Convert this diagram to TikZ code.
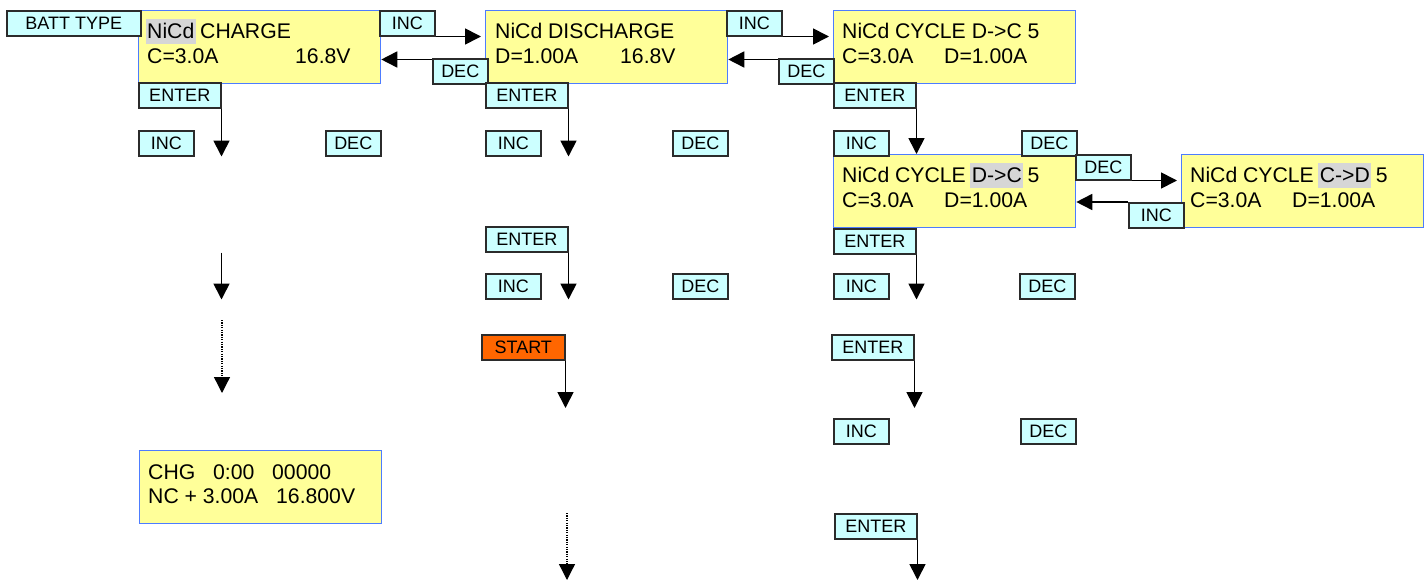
\documentclass[tikz,border=0pt]{standalone}
\usepackage{fontspec}
\setmainfont{Liberation Sans}
\usetikzlibrary{arrows.meta}
\definecolor{lcdfill}{HTML}{FFFF99}
\definecolor{lcdline}{HTML}{4D7CFF}
\definecolor{btnfill}{HTML}{CCFFFF}
\definecolor{btnline}{HTML}{2B2B2B}
\definecolor{startfill}{HTML}{FF6600}
\definecolor{hlgray}{HTML}{D6D6D6}
\newcommand\hlbox[1]{{\setlength\fboxsep{0pt}\kern-1.5pt\colorbox{hlgray}{\kern1.5pt\rule[-6pt]{0pt}{25pt}#1\kern1.5pt}\kern-1.5pt}}
\begin{document}
\begin{tikzpicture}[x=1pt,y=-1pt,
  lcd/.style={draw=lcdline, fill=lcdfill, line width=1.3pt, minimum width=242pt, minimum height=73pt, anchor=north west, inner sep=0pt},
  lcdtxt/.style={anchor=base west, inner sep=0pt, font=\fontsize{21.2}{24}\selectfont},
  btn/.style={draw=btnline, fill=btnfill, line width=1.5pt, font=\fontsize{18}{20}\selectfont, minimum height=25pt, inner sep=0pt, anchor=north west, text height=13pt, text depth=1pt},
  incbtn/.style={btn, minimum width=55pt},
  entbtn/.style={btn, minimum width=82pt},
  startbtn/.style={btn, minimum width=83pt, fill=startfill},
  arr/.style={line width=1.7pt, -{Triangle[length=16pt,width=16pt]}},
  darr/.style={line width=1.3pt, dash pattern=on 1.2pt off 1.2pt, -{Triangle[length=16pt,width=16pt]}}
]
\useasboundingbox (0,0) rectangle (1428,581);

% LCD screens
\node[lcd] (lcdA) at (138,10) {};
\node[lcd] (lcdB) at (485,10) {};
\node[lcd] (lcdC) at (833,10) {};
\node[lcd] (lcdC2) at (833,154) {};
\node[lcd] (lcdD) at (1181,154) {};
\node[lcd] (chg) at (139,450) {};

\node[lcdtxt] (tA1) at ([shift={(9,28)}]lcdA.north west) {\hlbox{NiCd} CHARGE};
\node[lcdtxt] (tA2) at ([shift={(9,53)}]lcdA.north west) {\makebox[148pt][l]{C=3.0A}16.8V};
\node[lcdtxt] (tB1) at ([shift={(10,28)}]lcdB.north west) {NiCd DISCHARGE};
\node[lcdtxt] (tB2) at ([shift={(10,53)}]lcdB.north west) {\makebox[125pt][l]{D=1.00A}16.8V};
\node[lcdtxt] (tC1) at ([shift={(9,28)}]lcdC.north west) {NiCd CYCLE D->C 5};
\node[lcdtxt] (tC2) at ([shift={(9,53)}]lcdC.north west) {\makebox[102pt][l]{C=3.0A}D=1.00A};
\node[lcdtxt] (tC21) at ([shift={(9,28)}]lcdC2.north west) {NiCd CYCLE \hlbox{D->C} 5};
\node[lcdtxt] (tC22) at ([shift={(9,53)}]lcdC2.north west) {\makebox[102pt][l]{C=3.0A}D=1.00A};
\node[lcdtxt] (tD1) at ([shift={(9,28)}]lcdD.north west) {NiCd CYCLE \hlbox{C->D} 5};
\node[lcdtxt] (tD2) at ([shift={(9,53)}]lcdD.north west) {\makebox[102pt][l]{C=3.0A}D=1.00A};
\node[lcdtxt] (tG1) at ([shift={(9,29)}]chg.north west) {\makebox[65pt][l]{CHG}\makebox[59pt][l]{0:00}00000};
\node[lcdtxt] (tG2) at ([shift={(9,53)}]chg.north west) {\makebox[128pt][l]{NC + 3.00A}16.800V};

% buttons
\node[btn, minimum width=134pt] (batt) at (6,10) {BATT TYPE};
\node[incbtn] (incA) at (379,10) {INC};
\node[incbtn] (decA) at (432,58) {DEC};
\node[entbtn] (entA) at (138,82) {ENTER};
\node[incbtn] (incA2) at (138,130) {INC};
\node[incbtn] (decA2) at (325,130) {DEC};

\node[incbtn] (incB) at (726,10) {INC};
\node[incbtn] (decB) at (778,58) {DEC};
\node[entbtn] (entB) at (485,82) {ENTER};
\node[incbtn] (incB2) at (485,130) {INC};
\node[incbtn] (decB2) at (672,130) {DEC};
\node[entbtn] (entB2) at (485,226) {ENTER};
\node[incbtn] (incB3) at (485,273) {INC};
\node[incbtn] (decB3) at (672,273) {DEC};
\node[startbtn] (start) at (481,334) {START};

\node[entbtn] (entC) at (833,82) {ENTER};
\node[incbtn] (incC2) at (833,130) {INC};
\node[incbtn] (decC2) at (1021,130) {DEC};
\node[incbtn] (decC3) at (1075,154) {DEC};
\node[incbtn] (incD) at (1128,202) {INC};
\node[entbtn] (entC3) at (833,228) {ENTER};
\node[incbtn] (incC4) at (833,273) {INC};
\node[incbtn] (decC4) at (1019,273) {DEC};
\node[entbtn] (entC4) at (831,334) {ENTER};
\node[incbtn] (incC5) at (833,418) {INC};
\node[incbtn] (decC5) at (1020,418) {DEC};
\node[entbtn] (entC5) at (834,513) {ENTER};

% horizontal arrows
\draw[arr, shorten >=4pt] (incA.south east) -- (incA.south east -| lcdB.west);
\coordinate (dA) at ([yshift=-1.5pt]decA.north west);
\draw[arr] (dA) -- (dA -| lcdA.east);
\draw[arr, shorten >=4pt] (incB.south east) -- (incB.south east -| lcdC.west);
\coordinate (dB) at ([yshift=-1.5pt]decB.north west);
\draw[arr] (dB) -- (dB -| lcdB.east);
\draw[arr, shorten >=4pt] (decC3.south east) -- (decC3.south east -| lcdD.west);
\draw[arr] (incD.north west) -- (incD.north west -| lcdC2.east);

% vertical arrows
\draw[arr] (entA.south east) -- (entA.south east |- incA2.south);
\draw[arr] (entA.south east |- entB2.south) -- (entA.south east |- incB3.south);
\coordinate (dotA1) at (222,320);
\coordinate (dotA2) at (222,393);
\draw[darr] (dotA1) -- (dotA2);

\draw[arr] (entB.south east) -- (entB.south east |- incB2.south);
\draw[arr] (entB2.south east) -- (entB2.south east |- incB3.south);
\coordinate (stEnd) at (564,408);
\draw[arr] (start.south east) -- (start.south east |- stEnd);
\coordinate (dotB1) at (567,513);
\coordinate (dotB2) at (567,580);
\draw[darr] (dotB1) -- (dotB2);

\draw[arr] (entC.south east) -- (entC.south east |- lcdC2.north);
\draw[arr] (entC3.south east) -- (entC3.south east |- incC4.south);
\coordinate (c4End) at (911,408);
\draw[arr] (entC4.south east) -- (entC4.south east |- c4End);
\coordinate (c5End) at (916,580);
\draw[arr] (entC5.south east) -- (entC5.south east |- c5End);
\end{tikzpicture}
\end{document}
